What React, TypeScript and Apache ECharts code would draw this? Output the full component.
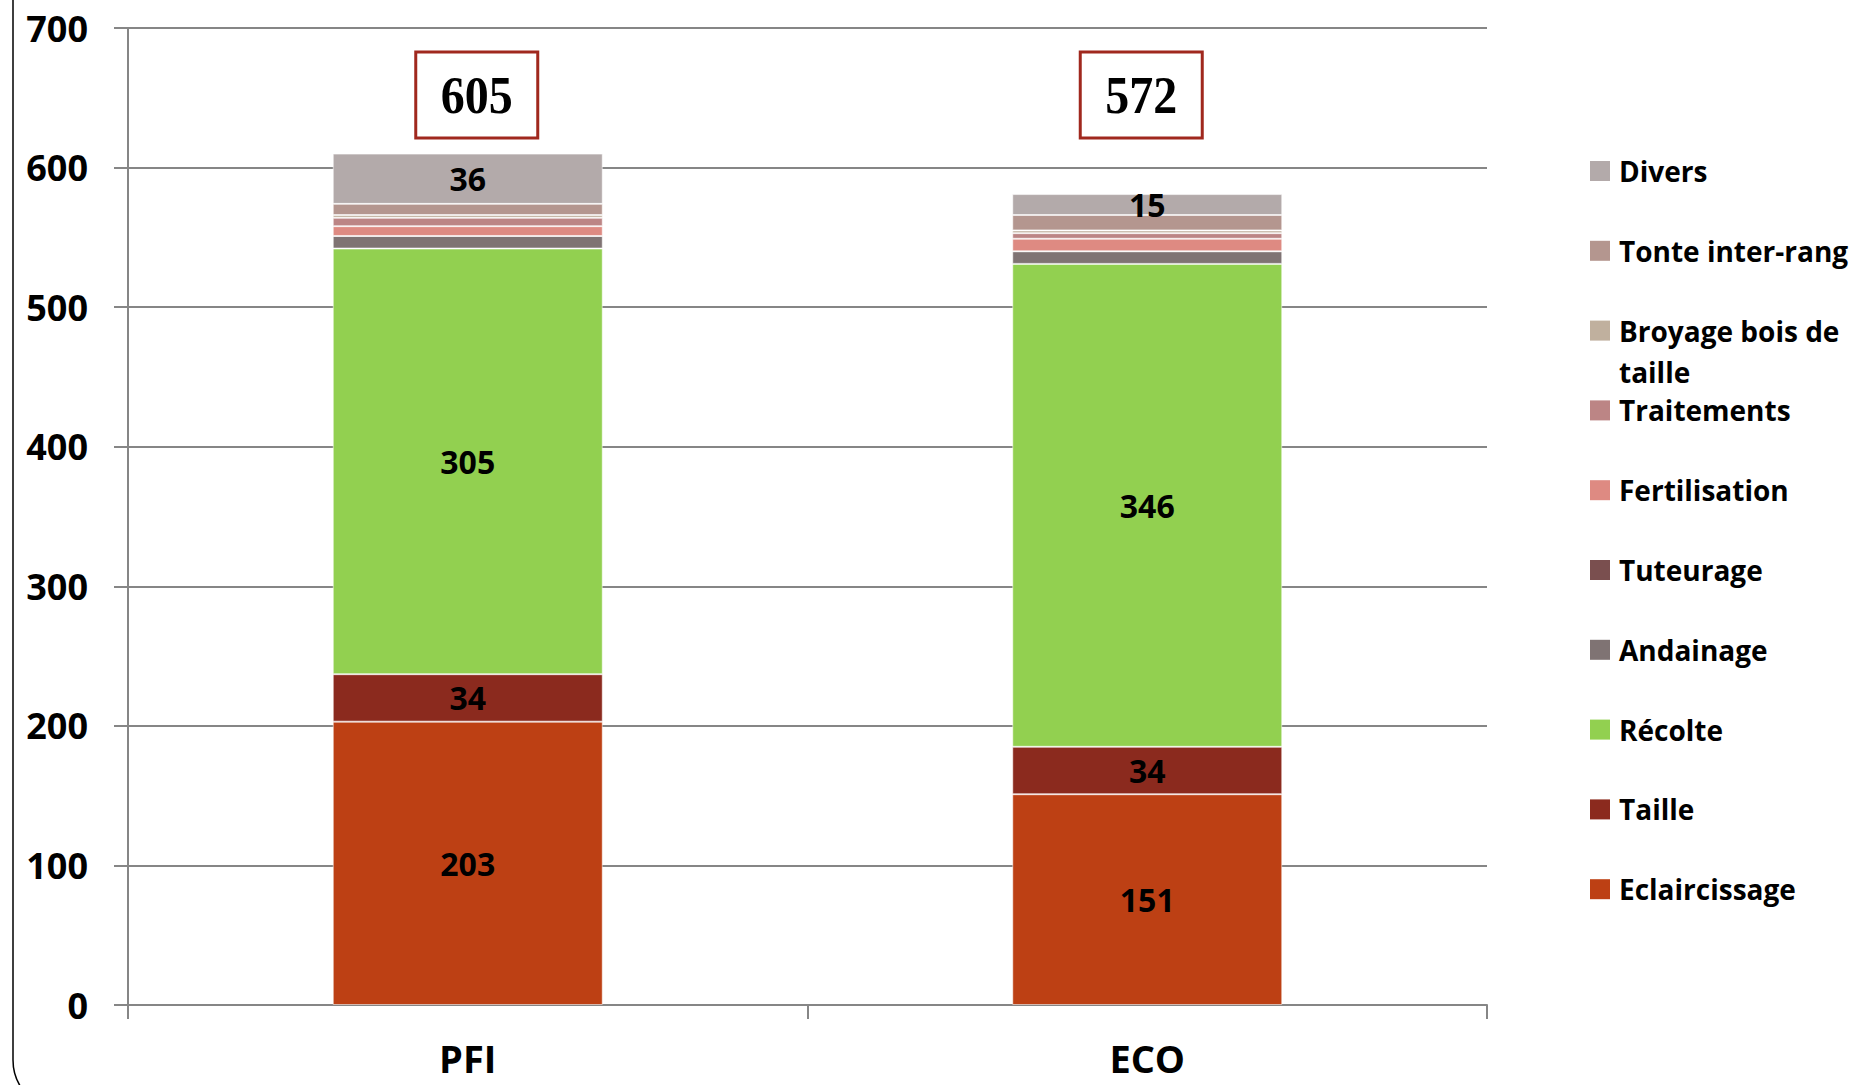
import React, { useEffect, useRef } from "react";
import * as echarts from "echarts";

const categories = ["PFI", "ECO"];
const eclaircissage = [203, 151];
const taille = [34, 34];
const recolte = [305, 346];
const andainage = [9, 9];
const tuteurage = [0, 0];
const fertilisation = [7, 9];
const traitements = [6, 4];
const broyage = [2, 2];
const tonte = [8, 11];
const divers = [36, 15];
const totals = [605, 572];
const yTicks = [0, 100, 200, 300, 400, 500, 600, 700];

const seriesDefs = [
  { name: "Eclaircissage", data: eclaircissage, color: "#bd4014", label: true },
  { name: "Taille", data: taille, color: "#8b2a1e", label: true },
  { name: "Récolte", data: recolte, color: "#92d050", label: true },
  { name: "Andainage", data: andainage, color: "#7f7373", label: false },
  { name: "Tuteurage", data: tuteurage, color: "#7a4f4f", label: false },
  { name: "Fertilisation", data: fertilisation, color: "#de8a82", label: false },
  { name: "Traitements", data: traitements, color: "#bc8585", label: false },
  { name: "Broyage bois de taille", data: broyage, color: "#c0b09e", label: false },
  { name: "Tonte inter-rang", data: tonte, color: "#b4968f", label: false },
  { name: "Divers", data: divers, color: "#b3aaaa", label: true },
];
const legendLabels: Record<string, string> = {
  "Broyage bois de taille": "Broyage bois de\ntaille",
};

const FONT = "'Open Sans', 'Liberation Sans', sans-serif";

export default function App() {
  const ref = useRef<HTMLDivElement>(null);
  useEffect(() => {
    if (!ref.current) return;
    const chart = echarts.init(ref.current, null, { renderer: "svg" });
    chart.setOption({
      animation: false,
      backgroundColor: "#ffffff",
      grid: { left: 128, right: 372, top: 28, bottom: 80, containLabel: false },
      xAxis: {
        type: "category",
        data: categories,
        boundaryGap: true,
        axisLine: { show: true, lineStyle: { color: "#868686", width: 2 } },
        axisTick: { show: true, length: 14, lineStyle: { color: "#868686", width: 2 } },
        axisLabel: {
          color: "#000",
          fontFamily: FONT,
          fontWeight: "bold",
          fontSize: 38,
          lineHeight: 42,
          margin: 32,
        },
      },
      yAxis: {
        type: "value",
        min: yTicks[0],
        max: yTicks[yTicks.length - 1],
        interval: 100,
        axisLine: { show: true, lineStyle: { color: "#868686", width: 2 } },
        axisTick: { show: true, length: 14, lineStyle: { color: "#868686", width: 2 } },
        splitLine: { show: true, lineStyle: { color: "#868686", width: 2 } },
        axisLabel: { color: "#000", fontFamily: FONT, fontWeight: "bold", fontSize: 36, margin: 40 },
      },
      series: seriesDefs.map((s) => ({
        name: s.name,
        type: "bar",
        stack: "total",
        barWidth: 270,
        data: s.data,
        itemStyle: { color: s.color, borderColor: "rgba(255,255,255,0.55)", borderWidth: 1 },
        label: {
          show: s.label,
          position: "inside",
          color: "#000",
          fontFamily: FONT,
          fontWeight: "bold",
          fontSize: 32,
        },
      })),
    });

    const graphics: any[] = [];
    // Frame line on the left
    graphics.push({
      type: "rect",
      shape: { x: 13, y: -60, width: 3000, height: 1170, r: 50 },
      style: { fill: "none", stroke: "#000", lineWidth: 1.5 },
      silent: true,
    });
    // Totals boxes
    const offsets = [9, -6];
    totals.forEach((t, i) => {
      const px = chart.convertToPixel({ xAxisIndex: 0 }, i) as number;
      const cx = px + offsets[i];
      graphics.push({
        type: "rect",
        shape: { x: cx - 61, y: 52, width: 122, height: 86 },
        style: { fill: "#fff", stroke: "#a0281e", lineWidth: 3 },
      });
      graphics.push({
        type: "text",
        x: cx,
        y: 95,
        scaleY: 1.12,
        style: {
          text: String(t),
          fontFamily: "'Liberation Serif', 'DejaVu Serif', serif",
          fontWeight: "bold",
          fontSize: 48,
          fill: "#000",
          align: "center",
          verticalAlign: "middle",
        },
      });
    });
    // Legend (top to bottom: reversed series order)
    const legendItems = [...seriesDefs].reverse();
    legendItems.forEach((s, i) => {
      const cy = 171 + i * 79.8;
      graphics.push({
        type: "rect",
        shape: { x: 1590, y: cy - 10, width: 20, height: 20 },
        style: { fill: s.color },
      });
      graphics.push({
        type: "text",
        x: 1619,
        y: cy - 20.75,
        style: {
          text: legendLabels[s.name] || s.name,
          fontFamily: FONT,
          fontWeight: "bold",
          fontSize: 28,
          lineHeight: 41.5,
          fill: "#000",
          align: "left",
          verticalAlign: "top",
        },
      });
    });
    chart.setOption({ graphic: graphics });
    return () => chart.dispose();
  }, []);
  return (
    <div
      ref={ref}
      style={{ position: "fixed", left: 0, top: 0, width: 1859, height: 1085, background: "#fff" }}
    />
  );
}
